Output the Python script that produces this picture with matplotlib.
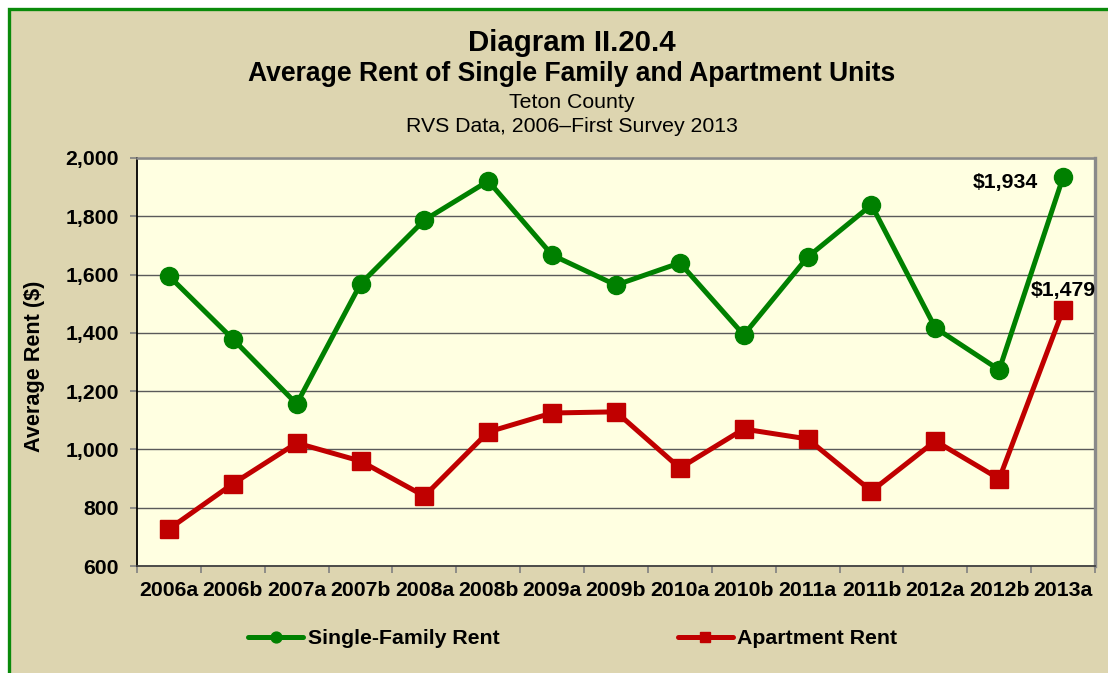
import matplotlib
matplotlib.use("Agg")
import matplotlib.pyplot as plt
from matplotlib.patches import Rectangle

categories = ["2006a", "2006b", "2007a", "2007b", "2008a", "2008b", "2009a", "2009b",
              "2010a", "2010b", "2011a", "2011b", "2012a", "2012b", "2013a"]
single_family = [1595, 1379, 1156, 1568, 1787, 1921, 1667, 1564, 1640, 1393, 1660, 1839, 1417, 1273, 1934]
apartment = [727, 882, 1022, 960, 840, 1060, 1125, 1129, 936, 1070, 1036, 857, 1029, 899, 1479]
y_ticks = [600, 800, 1000, 1200, 1400, 1600, 1800, 2000]

plt.rcParams['font.family'] = ['Liberation Sans', 'DejaVu Sans']

W, H = 1108, 673
fig = plt.figure(figsize=(W / 100, H / 100), dpi=100)
fig.patch.set_facecolor('white')

bg = Rectangle((8.5 / W, -0.1), 1.2, 1.1 - 9.5 / H, transform=fig.transFigure,
               facecolor='#ddd5b0', edgecolor='#0a8a0a', linewidth=2.4, zorder=-10,
               clip_on=False)
fig.patches.append(bg)

ax = fig.add_axes([137 / W, 1 - 566 / H, (1095 - 137) / W, (566 - 158) / H])
ax.set_facecolor('#ffffe1')

x = list(range(len(categories)))
green = '#008000'
red = '#c00000'
ax.plot(x, single_family, color=green, lw=3.6, marker='o', markersize=13,
        label='Single-Family Rent', zorder=3, solid_capstyle='round')
ax.plot(x, apartment, color=red, lw=3.6, marker='s', markersize=12.5,
        label='Apartment Rent', zorder=3, solid_capstyle='round')

ax.set_xlim(-0.5, len(categories) - 0.5)
ax.set_ylim(600, 2000)
ax.set_yticks(y_ticks)
ax.set_yticklabels([f"{v:,}" for v in y_ticks], fontsize=15.3, fontweight='bold')
ax.yaxis.grid(True, color='#5a5a5a', lw=1.0)
ax.set_axisbelow(True)

ax.set_xticks([i - 0.5 for i in range(len(categories) + 1)])
ax.set_xticklabels([])
ax.set_xticks(x, minor=True)
ax.set_xticklabels(categories, minor=True, fontsize=15.3, fontweight='bold')
ax.tick_params(axis='x', which='major', length=5, color='#808080', width=1.2, direction='out')
ax.tick_params(axis='x', which='minor', length=0, pad=11)
ax.tick_params(axis='y', length=5, color='#808080', width=1.2, pad=8)

ax.spines['left'].set_color('black')
ax.spines['left'].set_linewidth(1.3)
ax.spines['bottom'].set_color('#404040')
ax.spines['bottom'].set_linewidth(1.3)
ax.spines['top'].set_color('#8a8a8a')
ax.spines['top'].set_linewidth(1.8)
ax.spines['right'].set_color('#8a8a8a')
ax.spines['right'].set_linewidth(2.4)

ax.annotate(f"${single_family[-1]:,}", (x[-1], single_family[-1]), xytext=(-18, -4),
            textcoords='offset points', ha='right', va='center', fontsize=15.3, fontweight='bold')
ax.annotate(f"${apartment[-1]:,}", (x[-1], apartment[-1]), xytext=(0, 14),
            textcoords='offset points', ha='center', va='center', fontsize=15.3, fontweight='bold')

fig.text(35 / W, 1 - 366 / H, 'Average Rent ($)', rotation=90, ha='center', va='center',
         fontsize=15.6, fontweight='bold')

fig.text(572 / W, 1 - 43 / H, 'Diagram II.20.4', ha='center', va='center', fontsize=21.2, fontweight='bold')
fig.text(572 / W, 1 - 74 / H, 'Average Rent of Single Family and Apartment Units', ha='center', va='center',
         fontsize=19.1, fontweight='bold')
fig.text(572 / W, 1 - 102 / H, 'Teton County', ha='center', va='center', fontsize=15.3)
fig.text(572 / W, 1 - 127 / H, 'RVS Data, 2006\u2013First Survey 2013', ha='center', va='center', fontsize=15.3)

leg = fig.legend(loc='center left', bbox_to_anchor=(248 / W, 1 - 639 / H), ncol=2, frameon=False,
                 borderaxespad=0, borderpad=0, handlelength=2.6, handletextpad=0.2,
                 columnspacing=8.4, markerscale=0.6,
                 prop={'family': 'Liberation Sans', 'weight': 'bold', 'size': 15.3})

fig.savefig('out.png', dpi=100, facecolor=fig.get_facecolor())
